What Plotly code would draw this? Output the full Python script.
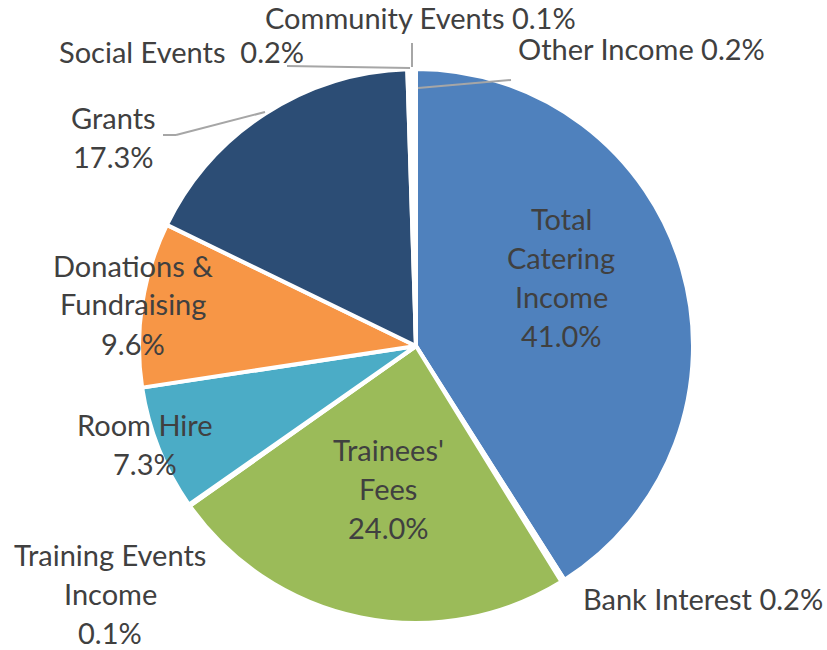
import plotly.graph_objects as go

# Income breakdown (share of total income, %)
categories = [
    "Total Catering Income", "Bank Interest", "Trainees' Fees",
    "Training Events Income", "Room Hire", "Donations & Fundraising",
    "Grants", "Social Events", "Community Events", "Other Income",
]
shares = [41.0, 0.2, 24.0, 0.1, 7.3, 9.6, 17.3, 0.2, 0.1, 0.2]
slice_colors = [
    "#4F81BD", "#C0504D", "#9BBB59", "#8064A2", "#4BACC6",
    "#F79646", "#2C4D75", "#772C2A", "#5F7530", "#4D3B62",
]

W, H = 827, 650
CX, CY, R = 416, 346, 277  # pie centre and radius in pixels

TEXT_COLOR = "#404040"
FONT = "Lato"
FSIZE = 29
LINE_STEP = 39  # pixel distance between wrapped label lines


def px(x):
    return x / W


def py(y):
    return 1 - y / H


fig = go.Figure(
    go.Pie(
        labels=categories,
        values=shares,
        sort=False,
        direction="clockwise",
        rotation=0,
        marker=dict(colors=slice_colors, line=dict(color="white", width=4)),
        textinfo="none",
        hoverinfo="label+percent",
        showlegend=False,
        domain=dict(x=[px(CX - R), px(CX + R)], y=[py(CY + R), py(CY - R)]),
    )
)

# label wording for each slice, one entry per wrapped line
label_lines = {
    "Total Catering Income": ["Total", "Catering", "Income", "{v}"],
    "Bank Interest": ["Bank Interest {v}"],
    "Trainees' Fees": ["Trainees'", "Fees", "{v}"],
    "Training Events Income": ["Training Events", "Income", "{v}"],
    "Room Hire": ["Room Hire", "{v}"],
    "Donations & Fundraising": ["Donations &", "Fundraising", "{v}"],
    "Grants": ["Grants", "{v}"],
    "Social Events": ["Social Events  {v}"],
    "Community Events": ["Community Events {v}"],
    "Other Income": ["Other Income {v}"],
}
# label anchor points (pixel centre of each text block)
label_pos = {
    "Total Catering Income": (561, 277),
    "Bank Interest": (703, 598),
    "Trainees' Fees": (388, 488),
    "Training Events Income": (110, 593),
    "Room Hire": (145, 444),
    "Donations & Fundraising": (133, 304),
    "Grants": (113, 137),
    "Social Events": (181, 51),
    "Community Events": (421, 18),
    "Other Income": (641, 48),
}

for cat, val in zip(categories, shares):
    x, y = label_pos[cat]
    lines = label_lines[cat]
    n = len(lines)
    for i, line in enumerate(lines):
        ly = y + (i - (n - 1) / 2) * LINE_STEP
        fig.add_annotation(
            x=px(x), y=py(ly), xref="paper", yref="paper",
            text=line.format(v=f"{val:.1f}%"),
            showarrow=False, xanchor="center", yanchor="middle",
            font=dict(family=FONT, size=FSIZE, color=TEXT_COLOR),
        )

# leader lines for the thin slices and Grants
leaders = [
    [(287, 66), (410, 68)],
    [(412, 43), (412, 67)],
    [(418, 88), (511, 80)],
    [(163, 135), (176, 135), (265, 112)],
]
for pts in leaders:
    for (x0, y0), (x1, y1) in zip(pts[:-1], pts[1:]):
        fig.add_shape(
            type="line", xref="paper", yref="paper",
            x0=px(x0), y0=py(y0), x1=px(x1), y1=py(y1),
            line=dict(color="#A6A6A6", width=2),
        )

fig.update_layout(
    width=W, height=H,
    margin=dict(l=0, r=0, t=0, b=0),
    paper_bgcolor="white",
    plot_bgcolor="white",
)

fig.write_html("out.html")
